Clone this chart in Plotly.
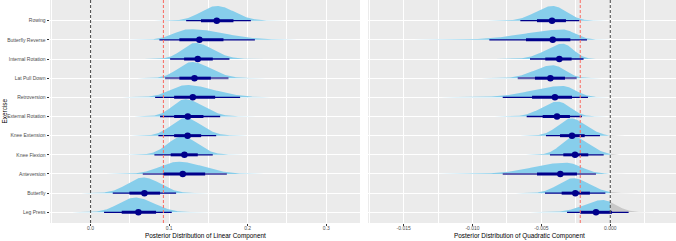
import numpy as np
import plotly.graph_objects as go

# ---------------- data (bottom -> top) ----------------
exercises = ["Leg Press", "Butterfly", "Anteversion", "Knee Flexion", "Knee Extension",
             "External Rotation", "Retroversion", "Lat Pull Down", "Internal Rotation",
             "Butterfly Reverse", "Rowing"]

lin_median = [0.0609, 0.0686, 0.1174, 0.1195, 0.1236, 0.1238, 0.1302, 0.1323, 0.1365, 0.1386, 0.1607]
lin_lo66 = [0.0397, 0.0495, 0.0928, 0.1021, 0.1064, 0.1064, 0.1064, 0.1131, 0.1191, 0.1131, 0.1406]
lin_hi66 = [0.0834, 0.0885, 0.1459, 0.1365, 0.1408, 0.1437, 0.1586, 0.1531, 0.1556, 0.1692, 0.1819]
lin_lo95 = [0.0172, 0.0283, 0.0665, 0.0813, 0.0864, 0.0885, 0.0822, 0.0949, 0.1013, 0.0877, 0.1217]
lin_hi95 = [0.1034, 0.1089, 0.1735, 0.1556, 0.1599, 0.1650, 0.1904, 0.1756, 0.1768, 0.2092, 0.2041]
lin_mode = [0.0567, 0.0673, 0.1119, 0.1161, 0.1204, 0.1204, 0.1225, 0.1289, 0.1331, 0.1268, 0.1607]
lin_peak = [0.77, 0.82, 0.64, 0.96, 0.92, 0.90, 0.64, 0.84, 0.84, 0.56, 0.77]

quad_median = [-0.00104, -0.00254, -0.00363, -0.00256, -0.00278, -0.00387, -0.00402, -0.00435, -0.00370, -0.00418, -0.00423]
quad_lo66 = [-0.00218, -0.00353, -0.00532, -0.00341, -0.00365, -0.00491, -0.00568, -0.00547, -0.00472, -0.00612, -0.00532]
quad_hi66 = [0.00012, -0.00148, -0.00242, -0.00160, -0.00186, -0.00293, -0.00278, -0.00329, -0.00281, -0.00290, -0.00322]
quad_lo95 = [-0.00314, -0.00474, -0.00781, -0.00438, -0.00467, -0.00607, -0.00781, -0.00672, -0.00583, -0.00878, -0.00653]
quad_hi95 = [0.00133, -0.00036, -0.00104, -0.00048, -0.00075, -0.00206, -0.00162, -0.00244, -0.00194, -0.00169, -0.00225]
quad_mode = [-0.00056, -0.00269, -0.00322, -0.00269, -0.00285, -0.00382, -0.00346, -0.00418, -0.00346, -0.00346, -0.00418]
quad_peak = [0.64, 0.78, 0.59, 0.94, 0.90, 0.78, 0.59, 0.68, 0.80, 0.54, 0.77]

lin_ref = 0.0928
quad_ref = -0.00218

lin_ticks = [0.0, 0.1, 0.2, 0.3]
lin_ticklabels = ["0.0", "0.1", "0.2", "0.3"]
quad_ticks = [-0.015, -0.010, -0.005, 0.000]
quad_ticklabels = ["-0.015", "-0.010", "-0.005", "0.000"]

light_outer = {"Lat Pull Down", "Anteversion"}

# ---------------- style ----------------
SLAB = "#87CEEB"
GREY_SLAB = "#C8C8C8"
DARK = "#00008B"
LIGHT_DARK = "#5F5FB0"
FONT = "Liberation Sans, Arial, sans-serif"

fig = go.Figure()


def add_panel(xa, ya, med, lo66, hi66, lo95, hi95, mode, peak, grey_above=None):
    for i, name in enumerate(exercises):
        base = i + 1
        sdl = (mode[i] - lo95[i]) / 1.96
        sdr = (hi95[i] - mode[i]) / 1.96
        xs = np.linspace(mode[i] - 4.0 * sdl, mode[i] + 4.0 * sdr, 300)
        sd = np.where(xs < mode[i], sdl, sdr)
        ys = base + peak[i] * np.exp(-0.5 * ((xs - mode[i]) / sd) ** 2)
        segs = [(xs, ys, SLAB)]
        if grey_above is not None and xs.max() > grey_above:
            m = xs <= grey_above
            xl = np.append(xs[m], grey_above)
            yl = np.append(ys[m], np.interp(grey_above, xs, ys))
            xr = np.insert(xs[~m], 0, grey_above)
            yr = np.insert(ys[~m], 0, np.interp(grey_above, xs, ys))
            segs = [(xl, yl, SLAB), (xr, yr, GREY_SLAB)]
        for sx, sy, col in segs:
            fig.add_trace(go.Scatter(
                x=np.concatenate([sx, sx[::-1]]),
                y=np.concatenate([sy, np.full(len(sx), base)]),
                fill="toself", fillcolor=col, mode="lines",
                line=dict(width=0, color=col), hoverinfo="skip",
                xaxis=xa, yaxis=ya, showlegend=False))
    for i, name in enumerate(exercises):
        base = i + 1
        outer_col = LIGHT_DARK if name in light_outer else DARK
        outer_w = 2.2 if name in light_outer else 1.3
        fig.add_trace(go.Scatter(x=[lo95[i], hi95[i]], y=[base, base], mode="lines",
                                 line=dict(color=outer_col, width=outer_w),
                                 xaxis=xa, yaxis=ya, showlegend=False, hoverinfo="skip"))
        fig.add_trace(go.Scatter(x=[lo66[i], hi66[i]], y=[base, base], mode="lines",
                                 line=dict(color=DARK, width=3),
                                 xaxis=xa, yaxis=ya, showlegend=False, hoverinfo="skip"))
        fig.add_trace(go.Scatter(x=[med[i]], y=[base], mode="markers",
                                 marker=dict(color=DARK, size=6.5),
                                 xaxis=xa, yaxis=ya, showlegend=False, hoverinfo="skip"))


add_panel("x", "y", lin_median, lin_lo66, lin_hi66, lin_lo95, lin_hi95, lin_mode, lin_peak)
add_panel("x2", "y2", quad_median, quad_lo66, quad_hi66, quad_lo95, quad_hi95, quad_mode, quad_peak,
          grey_above=0.0)

W, H = 676, 241
ydom = [18 / H, 1.0]

common_x = dict(showgrid=True, gridcolor="white", gridwidth=1.0, zeroline=False,
                ticks="outside", ticklen=2, tickcolor="#333333", tickwidth=0.8,
                ticklabelstandoff=-2,
                tickfont=dict(size=5.0, color="#4D4D4D", family=FONT),
                automargin=False, showline=False)

fig.update_layout(
    width=W, height=H,
    margin=dict(l=0, r=0, t=0, b=0),
    paper_bgcolor="white", plot_bgcolor="#EBEBEB",
    xaxis=dict(domain=[50 / W, 360 / W], range=[-0.0516, 0.343],
               tickvals=lin_ticks, ticktext=lin_ticklabels,
               minor=dict(dtick=0.05, tick0=0.05, showgrid=True, gridcolor="white", gridwidth=0.5, ticks=""),
               **common_x),
    xaxis2=dict(domain=[368 / W, 1.0], range=[-0.01759, 0.00477],
                tickvals=quad_ticks, ticktext=quad_ticklabels,
                minor=dict(dtick=0.005, tick0=0.0025, showgrid=True, gridcolor="white", gridwidth=0.5, ticks=""),
                **common_x),
    yaxis=dict(domain=ydom, range=[0.442, 12.08], tickvals=list(range(1, len(exercises) + 1)),
               ticktext=exercises, showgrid=True, gridcolor="white", gridwidth=1.0, zeroline=False,
               ticks="outside", ticklen=2.5, tickcolor="#333333", tickwidth=0.8,
               tickfont=dict(size=5.0, color="#4D4D4D", family=FONT), automargin=False),
    yaxis2=dict(domain=ydom, matches="y", anchor="x2", tickvals=list(range(1, len(exercises) + 1)),
                showticklabels=False, showgrid=True, gridcolor="white", gridwidth=1.0,
                zeroline=False, ticks="", automargin=False),
)

# reference lines
for xr, yr, val, col in [("x", "y", 0.0, "#555555"), ("x", "y", lin_ref, "#F8766D"),
                         ("x2", "y2", 0.0, "#555555"), ("x2", "y2", quad_ref, "#F8766D")]:
    fig.add_shape(type="line", xref=xr, yref=f"{yr} domain", x0=val, x1=val, y0=0, y1=1,
                  line=dict(color=col, width=1.1, dash="3px,2px"), layer="above")

# axis titles
fig.add_annotation(text="Posterior Distribution of Linear Component", xref="paper", yref="paper",
                   x=205 / W, y=5.0 / H, xanchor="center", yanchor="middle", showarrow=False,
                   font=dict(size=6.4, color="black", family=FONT))
fig.add_annotation(text="Posterior Distribution of Quadratic Component", xref="paper", yref="paper",
                   x=519 / W, y=5.0 / H, xanchor="center", yanchor="middle", showarrow=False,
                   font=dict(size=6.4, color="black", family=FONT))
fig.add_annotation(text="Exercise", xref="paper", yref="paper", x=4 / W, y=1 - 111.5 / H,
                   xanchor="center", yanchor="middle", textangle=-90, showarrow=False,
                   font=dict(size=6.4, color="black", family=FONT))

fig.write_html("out.html", config={"displayModeBar": False},
               post_script="document.body.style.margin='0';document.body.style.padding='0';"
                           "document.documentElement.style.overflow='hidden';")
